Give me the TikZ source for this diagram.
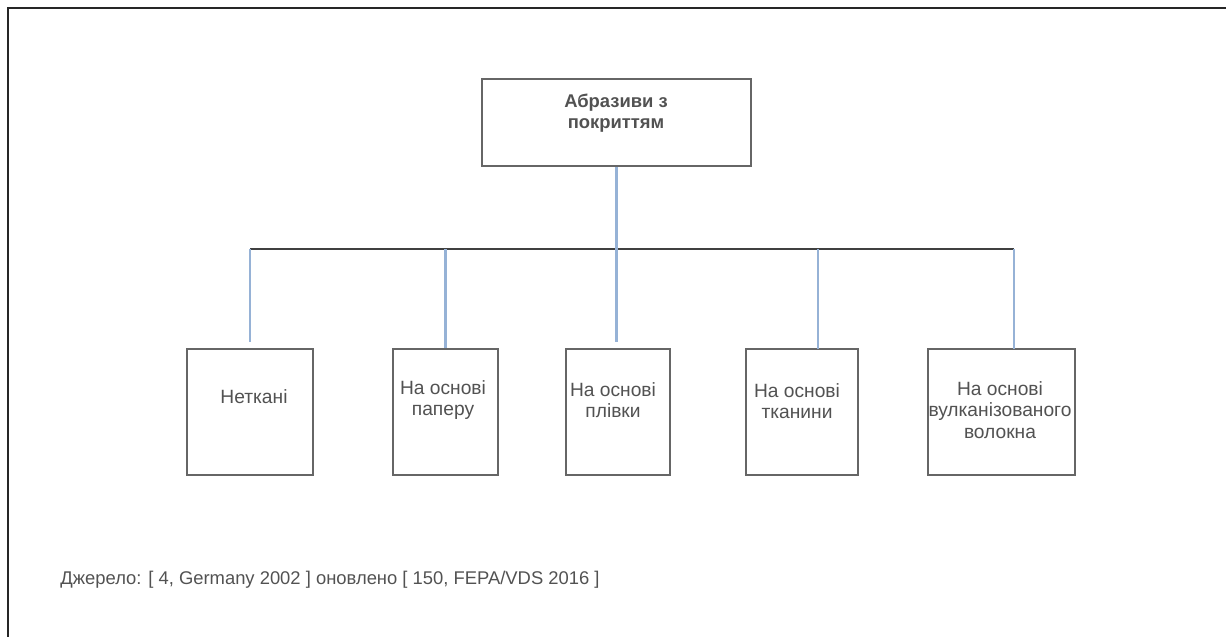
\documentclass[tikz,border=0pt]{standalone}
\usepackage{fontspec}
\setmainfont{Liberation Sans}
\usetikzlibrary{calc}
\colorlet{boxcol}{black!60}
\colorlet{txtcol}{black!68}
\definecolor{linkcol}{RGB}{150,178,214}
\tikzset{>=latex}
\tikzstyle{frame} = [line width = 1.1, color = black!85]
\tikzstyle{box}   = [draw = boxcol, line width = 1.3, fill = white, inner sep = 0]
\tikzstyle{boxtext} = [%
					text = txtcol,
					align = center,
					font = \fontsize{9.6}{10.8}\selectfont
					]
\tikzstyle{bar}  = [line width = 1.0, color = black!75]
\tikzstyle{link} = [line width = 1.1, color = linkcol]

\begin{document}
\begin{tikzpicture}[x=0.5pt,y=-0.5pt]
  \useasboundingbox (0,0) rectangle (1226,637);
  \def\hb{63pt} % height of the lower boxes
  \coordinate (bar) at (0,249);
  
  % FRAME
  \draw[frame] (8,637) -- (8,8) -- (1226,8);
  
  % TOP BOX
  \node[box,minimum width=134.5pt,minimum height=43.5pt] (coated) at (616.5,122.5) {};
  \node[boxtext,font=\bfseries\fontsize{9.2}{10.4}\selectfont] (coated-t) at (616,113)
    {Абразиви з\\покриттям};
  
  % LOWER BOXES
  \foreach \name/\x/\w/\tx/\ty/\txt in {%
      nonwoven/250/63/254/397/{Неткані},
      paper/445.5/52.5/443/400/{На основі\\паперу},
      film/618/52/613/400/{На основі\\плівки},
      cloth/802/56/797/401/{На основі\\тканини},
      fibre/1001.5/73.5/1000/410/{На основі\\вулканізованого\\волокна}}{
    \node[box,minimum width=\w pt,minimum height=\hb] (\name) at (\x,412) {};
    \node[boxtext] (\name-t) at (\tx,\ty) {\txt};
  }
  \coordinate (cloth-in) at (818,349);
  \coordinate (fibre-in) at (1014,349);
  
  % CONNECTORS
  \draw[bar] (nonwoven.north |- bar) -- (fibre-in |- bar);
  \draw[link,shorten >=3pt] (coated.south) -- (coated.south |- film.north);
  \draw[link,shorten >=3pt] (nonwoven.north |- bar) -- (nonwoven.north);
  \draw[link] (paper.north |- bar) -- (paper.north);
  \draw[link] (cloth-in |- bar) -- (cloth-in);
  \draw[link] (fibre-in |- bar) -- (fibre-in);
  
  % SOURCE
  \node[anchor=west,text=txtcol,inner sep=0,font=\fontsize{9.2}{11}\selectfont] (source) at (60,580)
    {Джерело: [ 4, Germany 2002 ] оновлено [ 150, FEPA/VDS 2016 ]};
\end{tikzpicture}
\end{document}
